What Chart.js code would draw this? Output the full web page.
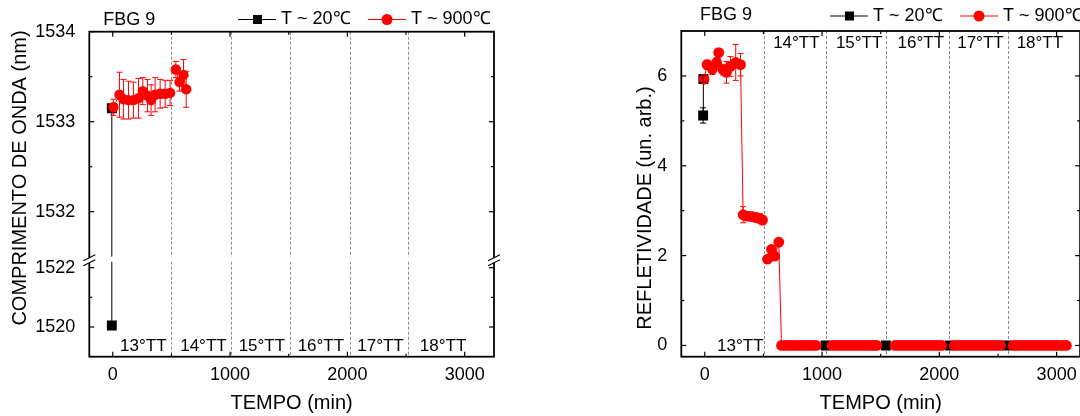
<!DOCTYPE html>
<html>
<head>
<meta charset="utf-8">
<script src="https://cdn.jsdelivr.net/npm/chart.js@4.4.1/dist/chart.umd.min.js"></script>
<style>
  html, body { margin: 0; padding: 0; background: #fff; overflow: hidden; }
  body { width: 1080px; height: 416px; position: relative; }
  #leftChart { position: absolute; left: 0; top: 0; }
  #rightChart { position: absolute; left: 600px; top: 0; }
</style>
</head>
<body>
<canvas id="leftChart" width="540" height="416"></canvas>
<canvas id="rightChart" width="490" height="416"></canvas>
<script>
// --- data ---

// left: wavelength (nm) vs time (min)
const leftBlackX = [-8, -8];
const leftBlackY = [1520.05, 1533.15];
const leftRedX = [5, 57, 91, 134, 176, 219, 256, 296, 327, 361, 404, 447, 489, 538, 569, 603, 626];
const leftRedY = [1533.16, 1533.30, 1533.25, 1533.24, 1533.24, 1533.26, 1533.34, 1533.29, 1533.24, 1533.30,
                  1533.31, 1533.31, 1533.32, 1533.58, 1533.44, 1533.52, 1533.36];
const leftRedErr = [0.09, 0.25, 0.22, 0.21, 0.2, 0.22, 0.15, 0.18, 0.17, 0.19, 0.16, 0.15, 0.14, 0.09, 0.1, 0.17, 0.2];

// right: reflectivity vs time (min)
const rightBlackX = [-14, -12, 1030, 1544, 2090, 2576];
const rightBlackY = [5.12, 5.93, 0, 0, 0, 0];
const rightBlackErr = [0.17, 0.08];
const rightRedX = [-6, 20, 65, 100, 119, 156, 185, 219, 264, 305,
                   327, 356, 398, 435, 469, 492,
                   535, 569, 597, 631,
                   654, 680, 706, 733, 760, 787, 815, 842, 868, 895, 922, 950,
                   1086, 1112, 1138, 1163, 1189, 1214, 1240, 1265, 1291, 1316, 1342, 1367, 1393, 1418, 1442, 1467,
                   1621, 1646, 1671, 1696, 1721, 1746, 1771, 1796, 1821, 1846, 1871, 1896, 1921, 1946, 1971, 1996, 2020,
                   2127, 2153, 2179, 2206, 2232, 2258, 2285, 2311, 2338, 2364, 2390, 2417, 2443, 2469, 2496, 2522,
                   2630, 2655, 2680, 2705, 2730, 2755, 2780, 2805, 2830, 2855, 2880, 2905, 2930, 2955, 2980, 3005, 3030, 3055, 3083];
const rightRedY = [5.93, 6.25, 6.15, 6.30, 6.52, 6.14, 6.08, 6.21, 6.30, 6.25,
                   2.91, 2.88, 2.87, 2.85, 2.83, 2.79,
                   1.92, 2.14, 1.99, 2.30,
                   0, 0, 0, 0, 0, 0, 0, 0, 0, 0, 0, 0,
                   0, 0, 0, 0, 0, 0, 0, 0, 0, 0, 0, 0, 0, 0, 0, 0,
                   0, 0, 0, 0, 0, 0, 0, 0, 0, 0, 0, 0, 0, 0, 0, 0, 0,
                   0, 0, 0, 0, 0, 0, 0, 0, 0, 0, 0, 0, 0, 0, 0, 0,
                   0, 0, 0, 0, 0, 0, 0, 0, 0, 0, 0, 0, 0, 0, 0, 0, 0, 0, 0];
const rightRedErr = [0.1, 0.1, 0.12, 0.1, 0.08, 0.12, 0.24, 0.22, 0.4, 0.25,
                     0.18, 0.1, 0.1, 0.1, 0.1, 0.1,
                     0.05, 0.05, 0.08, 0.05];

// heat treatment boundaries (dashed lines) and names
const leftTT = [498, 1008, 1514, 2020, 2519];
const rightTT = [503, 1032, 1544, 2084, 2588];
const ttNames = ['13°TT', '14°TT', '15°TT', '16°TT', '17°TT', '18°TT'];

// ticks
const xMajorTicks = [0, 1000, 2000, 3000];
const xMinorTicks = [500, 1500, 2500];
const leftYMajor = [1520, 1522, 1532, 1533, 1534];
const leftYMinor = [1521, 1532.5, 1533.5];
const rightYMajor = [0, 2, 4, 6];
const rightYMinor = [1, 3, 5];

// --- eixo quebrado: duas faixas empilhadas numa escala só ---
const lowRange = [1519, 1522.2];
const highRange = [1531.5, 1534];
const lowFrac = 95 / 325;
const highFrac = 225 / 325;

class BrokenLinearScale extends Chart.LinearScale {
  static id = 'brokenLinear';
  static defaults = {};
  getPixelForValue(value) {
    if (value === null || value === undefined) return NaN;
    const h = this.bottom - this.top;
    const lowH = h * lowFrac, highH = h * highFrac;
    if (value <= lowRange[1]) {
      return this.bottom - (value - lowRange[0]) / (lowRange[1] - lowRange[0]) * lowH;
    }
    if (value >= highRange[0]) {
      return this.top + (highRange[1] - value) / (highRange[1] - highRange[0]) * highH;
    }
    const gTop = this.top + highH, gBot = this.bottom - lowH;
    return gBot - (value - lowRange[1]) / (highRange[0] - lowRange[1]) * (gBot - gTop);
  }
  getValueForPixel(pixel) {
    const h = this.bottom - this.top;
    const lowH = h * lowFrac, highH = h * highFrac;
    if (pixel >= this.bottom - lowH) {
      return lowRange[0] + (this.bottom - pixel) / lowH * (lowRange[1] - lowRange[0]);
    }
    return highRange[1] - (pixel - this.top) / highH * (highRange[1] - highRange[0]);
  }
}
Chart.register(BrokenLinearScale);

const FONT = '"Liberation Sans", Arial, sans-serif';
Chart.defaults.font.family = FONT;
Chart.defaults.color = '#000';
const RED = '#ff0000';

const pts = (xs, ys) => xs.map((x, i) => ({ x: x, y: ys[i] }));

// hide the connecting line where it crosses a TT boundary
function ttSegment(bounds, color) {
  return {
    borderColor: ctx => {
      const a = ctx.p0.parsed.x, b = ctx.p1.parsed.x;
      return bounds.some(t => a < t && b > t) ? 'rgba(0,0,0,0)' : color;
    }
  };
}

function line(ctx, x1, y1, x2, y2) {
  ctx.beginPath(); ctx.moveTo(x1, y1); ctx.lineTo(x2, y2); ctx.stroke();
}

// frame, inward ticks, error bars, break marks, labels and legend
const decor = {
  id: 'decor',
  beforeDatasetsDraw(chart, args, o) {
    const { ctx, chartArea: a, scales: { x } } = chart;
    ctx.save();
    ctx.strokeStyle = '#8c8c8c';
    ctx.lineWidth = 1;
    ctx.setLineDash([3, 2]);
    o.ttLines.forEach(v => {
      const px = Math.round(x.getPixelForValue(v)) + 0.5;
      line(ctx, px, a.top, px, a.bottom);
    });
    ctx.restore();
  },
  afterDatasetsDraw(chart, args, o) {
    const { ctx, chartArea: a, scales: { x, y } } = chart;
    ctx.save();

    // error bars
    chart.data.datasets.forEach(ds => {
      if (!ds.errorBars) return;
      ctx.strokeStyle = ds.borderColor === RED ? RED : '#000';
      ctx.lineWidth = 1;
      ds.errorBars.forEach((e, i) => {
        const p = ds.data[i];
        if (!e || !p) return;
        const px = x.getPixelForValue(p.x);
        const y1 = y.getPixelForValue(p.y + e), y2 = y.getPixelForValue(p.y - e);
        line(ctx, px, y1, px, y2);
        line(ctx, px - 3, y1, px + 3, y1);
        line(ctx, px - 3, y2, px + 3, y2);
      });
    });

    // gap of the broken axis
    let gTop = null, gBot = null;
    if (o.broken) {
      gTop = y.getPixelForValue(highRange[0]);
      gBot = y.getPixelForValue(lowRange[1]);
      ctx.fillStyle = '#fff';
      ctx.fillRect(a.left + 1, gTop, a.right - a.left - 2, gBot - gTop);
    }

    // frame
    ctx.strokeStyle = '#000';
    ctx.lineWidth = 1.8;
    ctx.strokeRect(a.left, a.top, a.right - a.left, a.bottom - a.top);

    // inward ticks on all four sides
    ctx.lineWidth = 1.2;
    const xt = (list, len) => list.forEach(v => {
      const px = x.getPixelForValue(v);
      line(ctx, px, a.bottom, px, a.bottom - len);
      line(ctx, px, a.top, px, a.top + len);
    });
    const yt = (list, len) => list.forEach(v => {
      const py = y.getPixelForValue(v);
      line(ctx, a.left, py, a.left + len, py);
      line(ctx, a.right, py, a.right - len, py);
    });
    xt(xMajorTicks, 5); xt(xMinorTicks, 3);
    yt(o.yMajor, 5); yt(o.yMinor, 3);

    // break marks on both vertical axes
    if (o.broken) {
      const yc = (gTop + gBot) / 2;
      [a.left, a.right].forEach(x0 => {
        ctx.fillStyle = '#fff';
        ctx.beginPath();
        ctx.moveTo(x0 - 6, yc + 1.5); ctx.lineTo(x0 + 6, yc - 4.5);
        ctx.lineTo(x0 + 6, yc + 0.5); ctx.lineTo(x0 - 6, yc + 6.5);
        ctx.closePath(); ctx.fill();
        ctx.lineWidth = 1.2;
        line(ctx, x0 - 6, yc + 1.5, x0 + 6, yc - 4.5);
        line(ctx, x0 - 6, yc + 6.5, x0 + 6, yc + 0.5);
      });
    }

    // TT names
    ctx.fillStyle = '#000';
    ctx.font = '17px ' + FONT;
    ctx.textAlign = 'left';
    ctx.textBaseline = 'middle';
    ttNames.forEach((t, i) => {
      const py = o.ttLabelTop[i] ? a.top + 12 : a.bottom - 10.5;
      ctx.fillText(t, x.getPixelForValue(o.ttLabelX[i]), py);
    });

    // y title
    ctx.font = '20px ' + FONT;
    ctx.textAlign = 'center';
    ctx.save();
    ctx.translate(o.yTitle.x, o.yTitle.y);
    ctx.rotate(-Math.PI / 2);
    ctx.fillText(o.yTitle.text, 0, 0);
    ctx.restore();

    // header: sample name and legend
    const L = o.legend;
    ctx.font = '18px ' + FONT;
    ctx.textAlign = 'left';
    ctx.fillText('FBG 9', L.fbgX, L.fbgY);
    ctx.lineWidth = 1;
    ctx.strokeStyle = '#000';
    line(ctx, L.blackX, L.y, L.blackX + 38, L.y);
    ctx.fillStyle = '#000';
    ctx.fillRect(L.blackX + 15, L.y - 4.5, 9, 9);
    ctx.fillText('T ~ 20℃', L.blackX + 43, L.y);
    ctx.strokeStyle = RED;
    line(ctx, L.redX, L.y, L.redX + 38, L.y);
    ctx.fillStyle = RED;
    ctx.beginPath(); ctx.arc(L.redX + 19, L.y, 5.5, 0, Math.PI * 2); ctx.fill();
    ctx.fillStyle = '#000';
    ctx.fillText('T ~ 900℃', L.redX + 43, L.y);

    ctx.restore();
  }
};

function xScale(max) {
  return {
    type: 'linear', min: -200, max: max,
    afterBuildTicks: s => { s.ticks = xMajorTicks.map(v => ({ value: v })); },
    afterFit: s => { s.height = 59.3; },
    grid: { display: false }, border: { display: false },
    ticks: { padding: 0, maxRotation: 0, autoSkip: false, font: { size: 18 }, callback: v => String(v) },
    title: { display: true, text: 'TEMPO (min)', font: { size: 20 }, padding: { top: 0, bottom: 1 } }
  };
}

function makeChart(id, datasets, yOpts, layoutPad, decorOpts, xMax) {
  return new Chart(document.getElementById(id), {
    type: 'scatter',
    data: { datasets: datasets },
    options: {
      responsive: false,
      animation: false,
      events: [],
      layout: { padding: layoutPad },
      plugins: { legend: { display: false }, tooltip: { enabled: false }, decor: decorOpts },
      scales: { x: xScale(xMax), y: yOpts }
    },
    plugins: [decor]
  });
}

// --- left panel ---
makeChart('leftChart', [
  {
    data: pts(leftBlackX, leftBlackY), showLine: true, order: 1,
    borderColor: '#000', borderWidth: 1, backgroundColor: '#000',
    pointStyle: 'rect', pointRadius: 7, pointBorderWidth: 0,
    segment: ttSegment(leftTT, '#000')
  },
  {
    data: pts(leftRedX, leftRedY), showLine: true, order: 0, errorBars: leftRedErr,
    borderColor: RED, borderWidth: 1, backgroundColor: RED,
    pointRadius: 5.2, pointBorderWidth: 0,
    segment: ttSegment(leftTT, RED)
  }
], {
  type: 'brokenLinear', min: 1519, max: 1534,
  afterBuildTicks: s => { s.ticks = leftYMajor.map(v => ({ value: v })); },
  afterFit: s => { s.width = 89.3; },
  grid: { display: false }, border: { display: false },
  ticks: { padding: 6, font: { size: 18 }, callback: v => String(v) }
}, { top: 31.7, right: 46, left: 0, bottom: 0 }, {
  broken: true,
  ttLines: leftTT,
  ttLabelX: [62, 575, 1073, 1576, 2084, 2618],
  ttLabelTop: [false, false, false, false, false, false],
  yMajor: leftYMajor, yMinor: leftYMinor,
  yTitle: { text: 'COMPRIMENTO DE ONDA (nm)', x: 20.5, y: 178 },
  legend: { fbgX: 103.3, fbgY: 20, y: 19.5, blackX: 238, redX: 368 }
}, 3250);

// --- right panel ---
makeChart('rightChart', [
  {
    data: pts(rightBlackX, rightBlackY), showLine: true, order: 1, errorBars: rightBlackErr,
    borderColor: '#000', borderWidth: 1, backgroundColor: '#000',
    pointStyle: 'rect', pointRadius: 7, pointBorderWidth: 0,
    segment: ttSegment(rightTT, '#000')
  },
  {
    data: pts(rightRedX, rightRedY), showLine: true, order: 0, errorBars: rightRedErr,
    borderColor: RED, borderWidth: 1, backgroundColor: RED,
    pointRadius: 5.4, pointBorderWidth: 0,
    segment: ttSegment(rightTT, RED)
  }
], {
  type: 'linear', min: -0.25, max: 7,
  afterBuildTicks: s => { s.ticks = rightYMajor.map(v => ({ value: v })); },
  afterFit: s => { s.width = 81.3; },
  grid: { display: false }, border: { display: false },
  ticks: { padding: 6, font: { size: 18 }, callback: v => String(v) }
}, { top: 31, right: 9.9, left: 0, bottom: 0 }, {
  broken: false,
  ttLines: rightTT,
  ttLabelX: [105, 583, 1118, 1644, 2152, 2659],
  ttLabelTop: [false, true, true, true, true, true],
  yMajor: rightYMajor, yMinor: rightYMinor,
  yTitle: { text: 'REFLETIVIDADE (un. arb.)', x: 45, y: 208 },
  legend: { fbgX: 100, fbgY: 15.5, y: 16, blackX: 230, redX: 360 }
}, 3200);
</script>
</body>
</html>
